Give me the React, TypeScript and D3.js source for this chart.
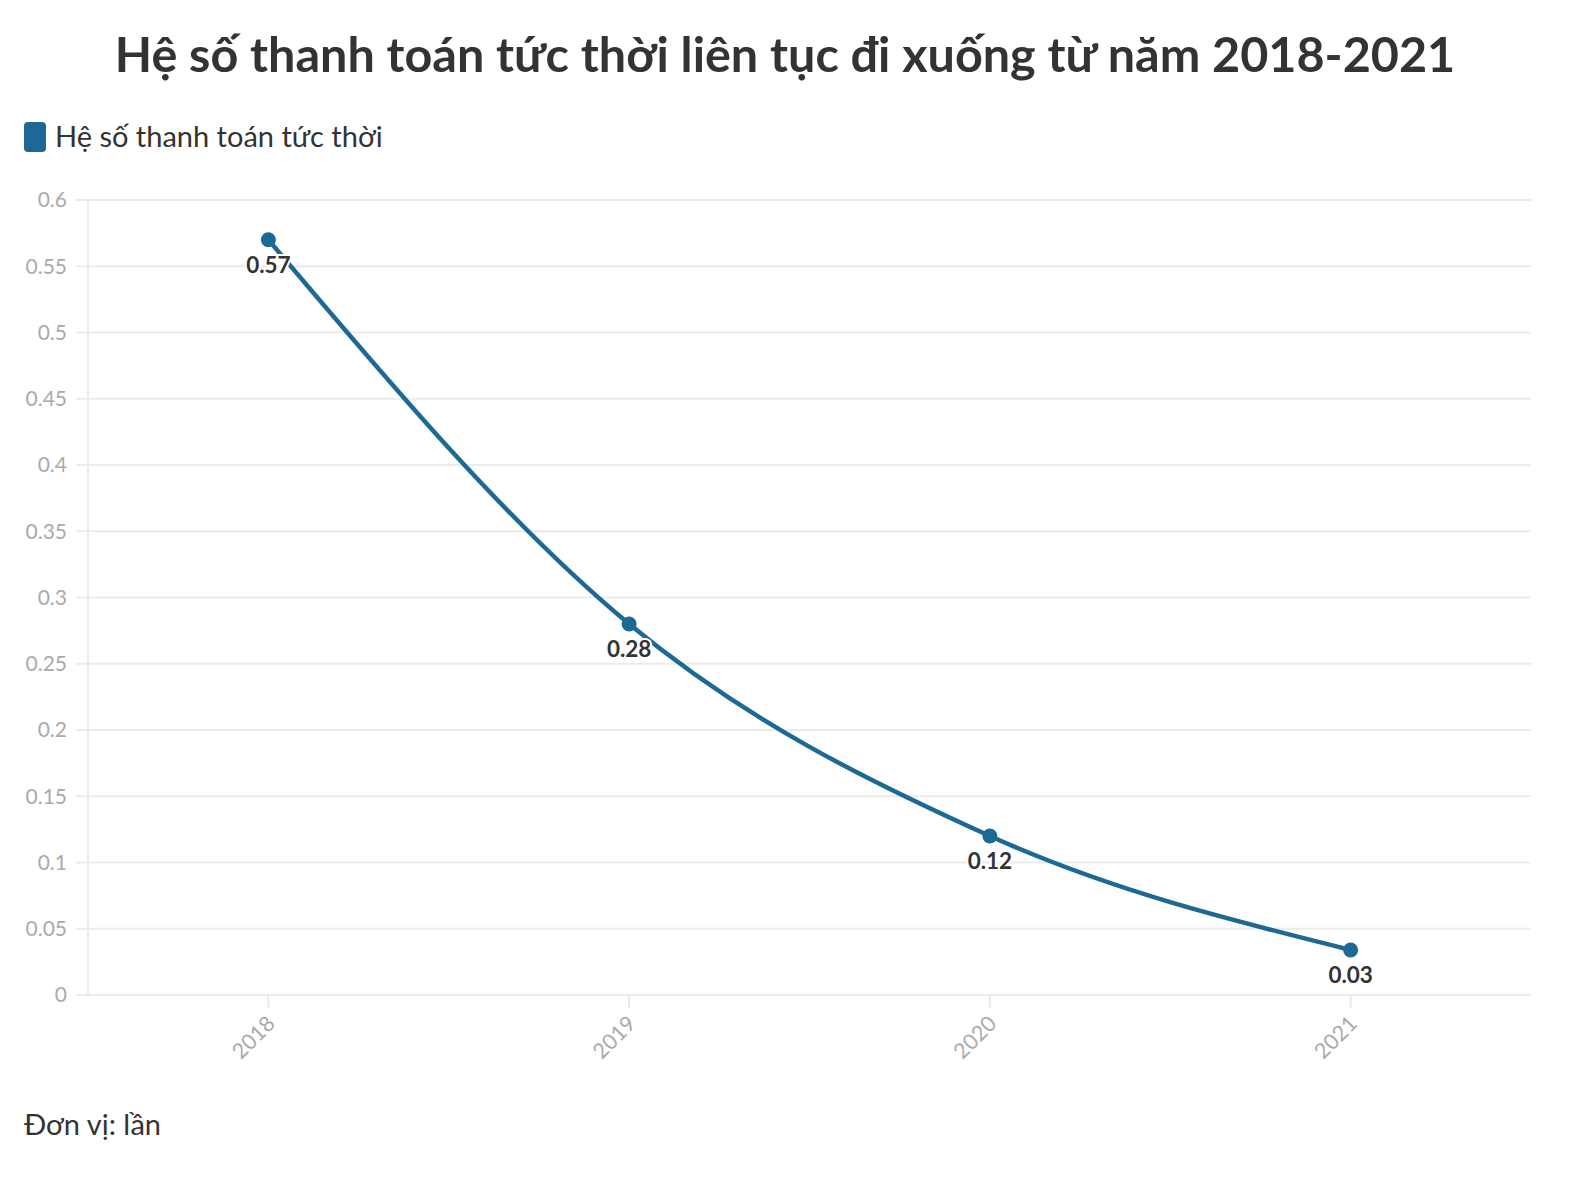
import React from "react";
import * as d3 from "d3";

const TITLE = "Hệ số thanh toán tức thời liên tục đi xuống từ năm 2018-2021";
const SERIES_NAME = "Hệ số thanh toán tức thời";
const UNIT_NOTE = "Đơn vị: lần";
const years = ["2018", "2019", "2020", "2021"];
const values = [0.57, 0.28, 0.12, 0.034];
const valueLabels = ["0.57", "0.28", "0.12", "0.03"];
const yTicks = [0, 0.05, 0.1, 0.15, 0.2, 0.25, 0.3, 0.35, 0.4, 0.45, 0.5, 0.55, 0.6];

const W = 1592;
const H = 1190;
const LEFT = 88;
const RIGHT = 1531;
const TOP = 200;
const BOTTOM = 995;
const COLOR = "#1d6996";
const FONT = "'Source Sans Pro', Lato, 'Noto Sans', sans-serif";

export default function App() {
  const x = d3.scalePoint<string>().domain(years).range([LEFT, RIGHT]).padding(0.5);
  const y = d3.scaleLinear().domain([0, 0.6]).range([BOTTOM, TOP]);
  const pts = years.map((yr, i) => ({ yr, v: values[i], label: valueLabels[i] }));
  const line = d3
    .line<{ yr: string; v: number }>()
    .x((d) => x(d.yr)!)
    .y((d) => y(d.v))
    .curve(d3.curveMonotoneX);

  return (
    <svg
      width={W}
      height={H}
      style={{ position: "absolute", left: 0, top: 0, background: "#fff" }}
      fontFamily={FONT}
    >
      <text x={785} y={72} textAnchor="middle" fontSize={48.5} fontWeight={700} fill="#333">
        {TITLE}
      </text>
      <rect x={24} y={122} width={22} height={30} rx={4} fill={COLOR} />
      <text x={55} y={147} fontSize={29} fill="#333">
        {SERIES_NAME}
      </text>

      {yTicks.map((t) => (
        <g key={t}>
          <line x1={76} x2={RIGHT} y1={y(t)} y2={y(t)} stroke="#ebebeb" strokeWidth={2} />
          <text x={67} y={y(t)} dy="0.35em" textAnchor="end" fontSize={21} fill="#aaa">
            {String(t)}
          </text>
        </g>
      ))}
      <line x1={LEFT} x2={LEFT} y1={TOP} y2={BOTTOM} stroke="#ebebeb" strokeWidth={2} />
      {years.map((yr) => (
        <g key={yr}>
          <line x1={x(yr)} x2={x(yr)} y1={BOTTOM} y2={BOTTOM + 13} stroke="#ebebeb" strokeWidth={2} />
          <text
            transform={`translate(${x(yr)! + 8},${BOTTOM + 30}) rotate(-45)`}
            textAnchor="end"
            fontSize={21.5}
            fill="#aaa"
          >
            {yr}
          </text>
        </g>
      ))}

      <path d={line(pts) || ""} fill="none" stroke={COLOR} strokeWidth={4.5} strokeLinecap="round" />
      {pts.map((p) => (
        <circle key={p.yr} cx={x(p.yr)} cy={y(p.v)} r={7.5} fill={COLOR} />
      ))}
      {pts.map((p) => (
        <text
          key={p.yr}
          x={x(p.yr)}
          y={y(p.v) + 33}
          textAnchor="middle"
          fontSize={22.5}
          fontWeight={700}
          fill="#333"
          stroke="#fff"
          strokeWidth={4}
          paintOrder="stroke"
        >
          {p.label}
        </text>
      ))}

      <text x={24} y={1135} fontSize={29} fill="#333">
        {UNIT_NOTE}
      </text>
    </svg>
  );
}
